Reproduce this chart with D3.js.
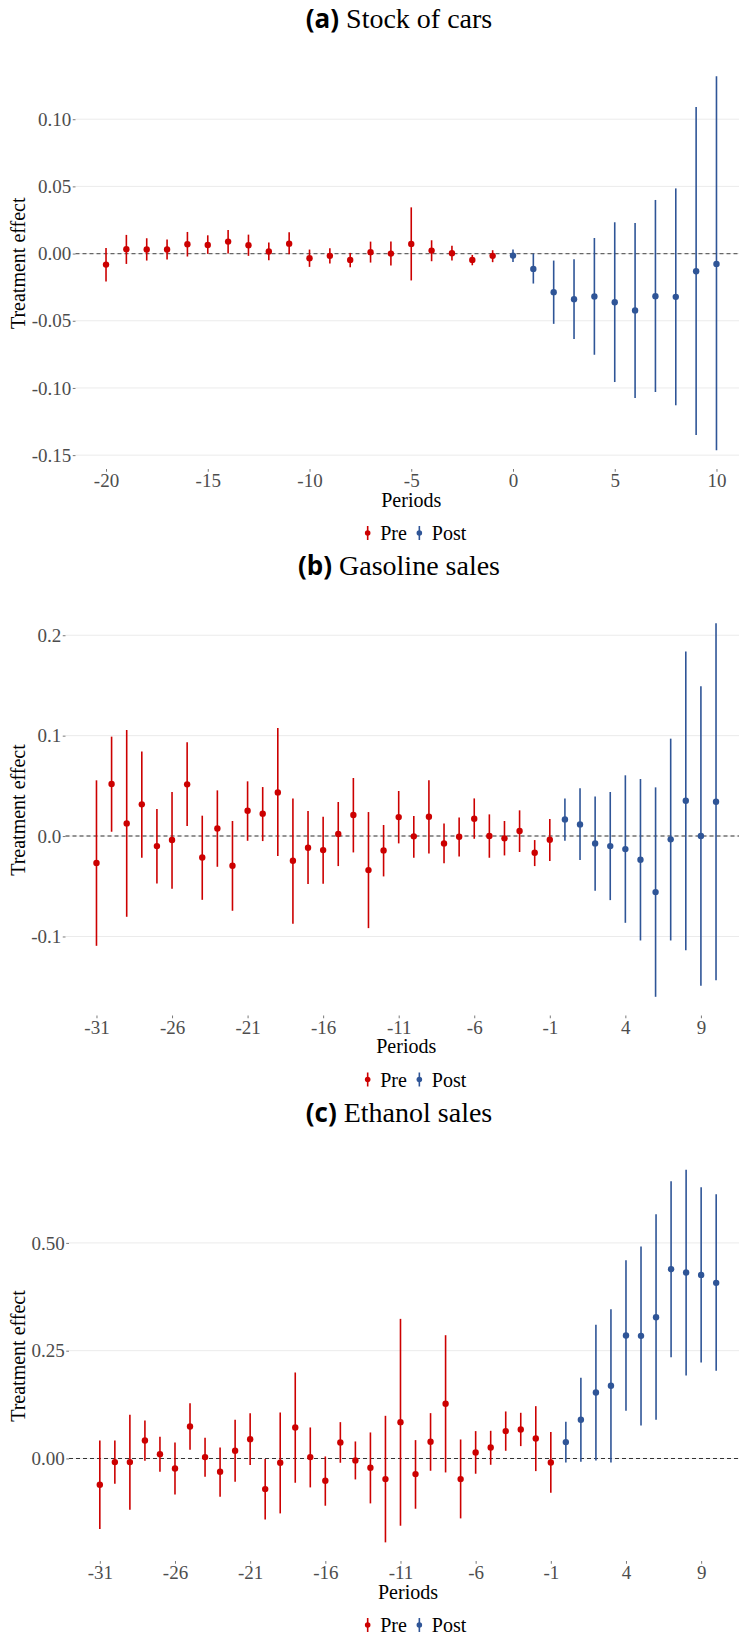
<!DOCTYPE html>
<html>
<head>
<meta charset="utf-8">
<script src="https://d3js.org/d3.v7.min.js"></script>
<style>
  body { margin: 0; background: #fff; }
</style>
</head>
<body>
<script>
// ---- data ----
const carsPeriods = [-20,-19,-18,-17,-16,-15,-14,-13,-12,-11,-10,-9,-8,-7,-6,-5,-4,-3,-2,-1,0,1,2,3,4,5,6,7,8,9,10];
const carsEst   = [-0.0082,0.0032,0.0030,0.0030,0.0069,0.0064,0.0089,0.0062,0.0015,0.0074,-0.0035,-0.0017,-0.0047,0.0010,0.0000,0.0072,0.0022,0.0002,-0.0047,-0.0017,-0.0015,-0.0114,-0.0287,-0.0339,-0.0319,-0.0362,-0.0423,-0.0317,-0.0322,-0.0131,-0.0077];
const carsLow   = [-0.0208,-0.0077,-0.0052,-0.0045,-0.0022,-0.0002,0.0000,-0.0017,-0.0050,-0.0005,-0.0099,-0.0074,-0.0102,-0.0067,-0.0089,-0.0200,-0.0057,-0.0052,-0.0087,-0.0064,-0.0062,-0.0223,-0.0523,-0.0636,-0.0753,-0.0956,-0.1075,-0.1030,-0.1129,-0.1350,-0.1464];
const carsHigh  = [0.0042,0.0139,0.0114,0.0104,0.0161,0.0136,0.0176,0.0141,0.0082,0.0158,0.0030,0.0040,0.0005,0.0089,0.0089,0.0344,0.0099,0.0059,-0.0010,0.0025,0.0030,0.0000,-0.0052,-0.0042,0.0116,0.0233,0.0228,0.0399,0.0485,0.1090,0.1320];

const salesPeriods = [-31,-30,-29,-28,-27,-26,-25,-24,-23,-22,-21,-20,-19,-18,-17,-16,-15,-14,-13,-12,-11,-10,-9,-8,-7,-6,-5,-4,-3,-2,-1,0,1,2,3,4,5,6,7,8,9,10];

const gasEst  = [-0.0269,0.0518,0.0126,0.0316,-0.0100,-0.0040,0.0515,-0.0213,0.0076,-0.0296,0.0252,0.0223,0.0435,-0.0246,-0.0116,-0.0140,0.0020,0.0209,-0.0339,-0.0143,0.0189,-0.0003,0.0193,-0.0073,-0.0007,0.0173,0.0000,-0.0023,0.0050,-0.0166,-0.0037,0.0166,0.0116,-0.0073,-0.0100,-0.0130,-0.0236,-0.0558,-0.0033,0.0352,0.0000,0.0342];
const gasLow  = [-0.1093,0.0043,-0.0804,-0.0216,-0.0472,-0.0525,0.0100,-0.0635,-0.0306,-0.0744,-0.0047,-0.0050,-0.0199,-0.0874,-0.0478,-0.0475,-0.0299,-0.0163,-0.0917,-0.0402,-0.0073,-0.0216,-0.0173,-0.0272,-0.0203,-0.0027,-0.0216,-0.0193,-0.0159,-0.0299,-0.0249,-0.0047,-0.0239,-0.0545,-0.0638,-0.0864,-0.1040,-0.1601,-0.1040,-0.1136,-0.1492,-0.1435];
const gasHigh = [0.0555,0.0990,0.1056,0.0841,0.0269,0.0439,0.0934,0.0203,0.0455,0.0150,0.0545,0.0488,0.1076,0.0375,0.0249,0.0193,0.0339,0.0578,0.0239,0.0110,0.0449,0.0199,0.0555,0.0126,0.0186,0.0375,0.0216,0.0150,0.0256,-0.0040,0.0169,0.0375,0.0475,0.0395,0.0439,0.0605,0.0568,0.0485,0.0970,0.1837,0.1492,0.2120];

const ethEst  = [-0.0610,-0.0085,-0.0085,0.0417,0.0100,-0.0232,0.0742,0.0031,-0.0309,0.0178,0.0448,-0.0711,-0.0100,0.0719,0.0031,-0.0518,0.0371,-0.0046,-0.0216,-0.0479,0.0842,-0.0363,0.0386,0.1267,-0.0479,0.0139,0.0255,0.0634,0.0672,0.0464,-0.0093,0.0379,0.0896,0.1530,0.1685,0.2852,0.2844,0.3277,0.4390,0.4312,0.4258,0.4073];
const ethLow  = [-0.1638,-0.0587,-0.1190,-0.0054,-0.0309,-0.0835,0.0201,-0.0425,-0.0889,-0.0541,-0.0155,-0.1414,-0.1275,-0.0564,-0.0672,-0.1097,-0.0100,-0.0487,-0.1043,-0.1947,-0.1561,-0.1167,-0.0286,-0.0325,-0.1391,-0.0355,-0.0147,0.0178,0.0286,-0.0294,-0.0796,-0.0093,-0.0077,-0.0046,-0.0093,0.1105,0.0765,0.0896,0.2349,0.1924,0.2226,0.2032];
const ethHigh = [0.0417,0.0417,0.1012,0.0881,0.0502,0.0371,0.1283,0.0479,0.0255,0.0896,0.1051,-0.0015,0.1066,0.1994,0.0719,0.0046,0.0842,0.0394,0.0603,0.0989,0.3238,0.0425,0.1051,0.2859,0.0440,0.0634,0.0641,0.1090,0.1059,0.1213,0.0611,0.0850,0.1870,0.3099,0.3462,0.4598,0.4915,0.5665,0.6430,0.6700,0.6290,0.6128];

const carsXTicks = [-20,-15,-10,-5,0,5,10];
const salesXTicks = [-31,-26,-21,-16,-11,-6,-1,4,9];
const carsYTicks = [-0.15,-0.10,-0.05,0.00,0.05,0.10];
const gasYTicks = [-0.1,0.0,0.1,0.2];
const ethYTicks = [0.00,0.25,0.50];

const groups = ["Pre", "Post"];
const colors = ["#cc0000", "#2f5597"];

// ---- layout ----
const W = 739, H = 1637;
const right = 747;
const serif = "'Liberation Serif', 'Times New Roman', serif";
const svg = d3.select("body").append("svg").attr("width", W).attr("height", H);

const panels = [
  {tag: "(a)", title: "Stock of cars", periods: carsPeriods, est: carsEst, lo: carsLow, hi: carsHigh,
   xTicks: carsXTicks, yTicks: carsYTicks, yDigits: 2, top: 57.5, bottom: 469, left: 75.5, zero: "#666", zw: 1.3},
  {tag: "(b)", title: "Gasoline sales", periods: salesPeriods, est: gasEst, lo: gasLow, hi: gasHigh,
   xTicks: salesXTicks, yTicks: gasYTicks, yDigits: 1, top: 604.5, bottom: 1015.5, left: 65.5, zero: "#333", zw: 1.1},
  {tag: "(c)", title: "Ethanol sales", periods: salesPeriods, est: ethEst, lo: ethLow, hi: ethHigh,
   xTicks: salesXTicks, yTicks: ethYTicks, yDigits: 2, top: 1151, bottom: 1561, left: 69, zero: "#333", zw: 1.1}
];

function expand(ext) {
  const pad = (ext[1] - ext[0]) * 0.05;
  return [ext[0] - pad, ext[1] + pad];
}

panels.forEach(p => {
  const rows = p.periods.map((t, i) => ({t, est: p.est[i], lo: p.lo[i], hi: p.hi[i], g: t < 0 ? 0 : 1}));

  const x = d3.scaleLinear().domain(expand(d3.extent(p.periods))).range([p.left, right]);
  const y = d3.scaleLinear()
    .domain(expand([d3.min(p.lo), d3.max(p.hi)]))
    .range([p.bottom, p.top]);

  const g = svg.append("g");

  // gridlines
  g.selectAll(".grid").data(p.yTicks).join("line")
    .attr("x1", p.left).attr("x2", right)
    .attr("y1", d => y(d)).attr("y2", d => y(d))
    .attr("stroke", "#ebebeb").attr("stroke-width", 1);

  // zero line
  g.append("line")
    .attr("x1", p.left).attr("x2", right)
    .attr("y1", y(0)).attr("y2", y(0))
    .attr("stroke", p.zero).attr("stroke-width", p.zw)
    .attr("stroke-dasharray", "4,3");

  // axes
  const yAxis = g.append("g").attr("transform", `translate(${p.left},0)`)
    .call(d3.axisLeft(y).tickValues(p.yTicks).tickSize(2.75).tickPadding(1.5)
      .tickFormat(d => d.toFixed(p.yDigits)));
  const xAxis = g.append("g").attr("transform", `translate(0,${p.bottom})`)
    .call(d3.axisBottom(x).tickValues(p.xTicks).tickSize(2.75).tickPadding(2)
      .tickFormat(d => String(d)));
  [yAxis, xAxis].forEach(a => {
    a.select(".domain").remove();
    a.attr("font-family", serif).attr("font-size", 19);
    a.selectAll(".tick line").attr("stroke", "#555").attr("stroke-width", 0.8);
    a.selectAll(".tick text").attr("fill", "#4d4d4d");
  });

  // point ranges
  g.selectAll(".whisk").data(rows).join("line")
    .attr("x1", d => x(d.t)).attr("x2", d => x(d.t))
    .attr("y1", d => y(d.lo)).attr("y2", d => y(d.hi))
    .attr("stroke", d => colors[d.g]).attr("stroke-width", 1.6);
  g.selectAll(".pt").data(rows).join("circle")
    .attr("cx", d => x(d.t)).attr("cy", d => y(d.est)).attr("r", 3.2)
    .attr("fill", d => colors[d.g]);

  // axis titles
  const cx = (p.left + right) / 2;
  g.append("text").attr("x", cx).attr("y", p.bottom + 37.5)
    .attr("text-anchor", "middle").attr("font-family", serif).attr("font-size", 20)
    .attr("fill", "#000").text("Periods");
  g.append("text")
    .attr("transform", `translate(25,${(p.top + p.bottom) / 2}) rotate(-90)`)
    .attr("text-anchor", "middle").attr("font-family", serif).attr("font-size", 20)
    .attr("fill", "#000").text("Treatment effect");

  // panel title
  const t = svg.append("text").attr("x", 399).attr("y", p.top - 29.5)
    .attr("text-anchor", "middle").attr("font-family", serif).attr("font-size", 28).attr("fill", "#000");
  t.append("tspan").attr("font-family", "'Open Sans', sans-serif").attr("font-weight", "bold")
    .attr("font-size", 26).text(p.tag);
  t.append("tspan").text(" " + p.title);

  // legend
  const leg = g.append("g");
  const ly = p.bottom + 64;
  let xpos = 0;
  groups.forEach((name, i) => {
    const it = leg.append("g");
    it.append("line").attr("x1", 0).attr("x2", 0).attr("y1", -7).attr("y2", 7)
      .attr("stroke", colors[i]).attr("stroke-width", 1.6);
    it.append("circle").attr("r", 2.8).attr("fill", colors[i]);
    const tx = it.append("text").attr("x", 12.5).attr("y", 7)
      .attr("font-family", serif).attr("font-size", 20).attr("fill", "#000").text(name);
    const w = tx.node().getComputedTextLength();
    it.attr("transform", `translate(${xpos},${ly})`);
    xpos += 12.5 + w + 12.5;
  });
  const totalW = xpos - 12.5 + 5;
  leg.attr("transform", `translate(${414.5 - totalW / 2 + 5},0)`);
});
</script>
</body>
</html>
